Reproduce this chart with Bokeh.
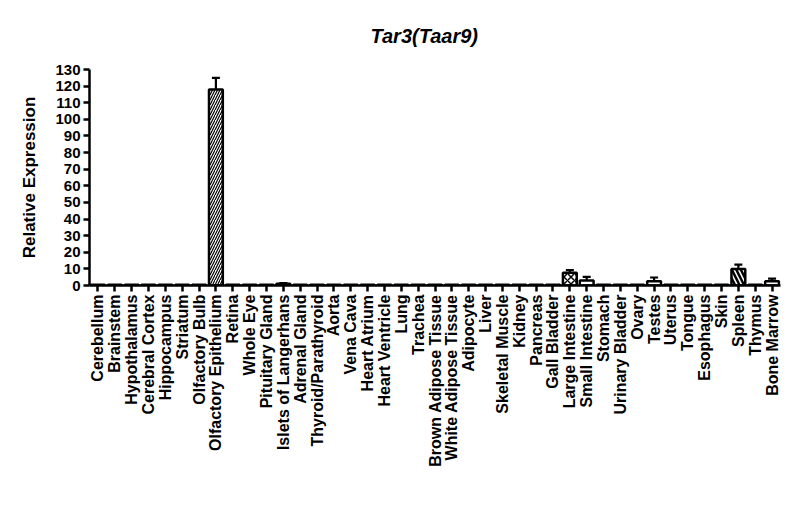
import math
from bokeh.plotting import figure
from bokeh.models import ColumnDataSource, Whisker, TeeHead, FixedTicker, Range1d, FactorRange
from bokeh.embed import file_html
from bokeh.resources import INLINE

tissues = ["Cerebellum", "Brainstem", "Hypothalamus", "Cerebral Cortex", "Hippocampus",
           "Striatum", "Olfactory Bulb", "Olfactory Epithelium", "Retina", "Whole Eye",
           "Pituitary Gland", "Islets of Langerhans", "Adrenal Gland", "Thyroid/Parathyroid",
           "Aorta", "Vena Cava", "Heart Atrium", "Heart Ventricle", "Lung", "Trachea",
           "Brown Adipose Tissue", "White Adipose Tissue", "Adipocyte", "Liver",
           "Skeletal Muscle", "Kidney", "Pancreas", "Gall Bladder", "Large Intestine",
           "Small Intestine", "Stomach", "Urinary Bladder", "Ovary", "Testes", "Uterus",
           "Tongue", "Esophagus", "Skin", "Spleen", "Thymus", "Bone Marrow"]

expression = [0.5, 0.5, 0.5, 0.5, 0.5, 0.5, 0.5, 118.0, 0.5, 0.5,
              0.5, 1.1, 0.5, 0.5, 0.5, 0.5, 0.5, 0.5, 0.5, 0.5,
              0.5, 0.5, 0.5, 0.5, 0.5, 0.5, 0.5, 0.5, 7.7,
              3.0, 0.5, 0.5, 0.5, 2.6, 0.5, 0.5, 0.5, 0.5, 10.0, 0.5, 2.5]

sem = [0, 0, 0, 0, 0, 0, 0, 7.0, 0, 0,
       0, 0.3, 0, 0, 0, 0, 0, 0, 0, 0,
       0, 0, 0, 0, 0, 0, 0, 0, 1.5,
       2.2, 0, 0, 0, 2.2, 0, 0, 0, 0, 2.6, 0, 1.6]

y_ticks = [0, 10, 20, 30, 40, 50, 60, 70, 80, 90, 100, 110, 120, 130]

hatch_map = {"Olfactory Epithelium": ("/", 5, 1.2),
             "Large Intestine": ("x", 7, 1.5),
             "Spleen": ("\\", 9, 2.5)}
hatches = [hatch_map.get(t, (" ", 6, 1))[0] for t in tissues]
hscale = [hatch_map.get(t, (" ", 6, 1))[1] for t in tissues]
hweight = [hatch_map.get(t, (" ", 6, 1))[2] for t in tissues]

src = ColumnDataSource(dict(tissue=tissues, value=expression, hatch=hatches,
                            hscale=hscale, hweight=hweight))

err_t = [t for t, s in zip(tissues, sem) if s > 0]
err_lo = [v for v, s in zip(expression, sem) if s > 0]
err_hi = [v + s for v, s in zip(expression, sem) if s > 0]
esrc = ColumnDataSource(dict(tissue=err_t, lower=err_lo, upper=err_hi))

p = figure(x_range=FactorRange(factors=tissues, range_padding=0),
           y_range=Range1d(0, 130),
           width=784, height=508, output_backend="svg", toolbar_location=None,
           min_border_left=89, min_border_right=4, min_border_top=66,
           min_border_bottom=223)

p.vbar(x="tissue", top="value", width=0.82, source=src, fill_color="white",
       line_color="black", line_width=2.5, hatch_pattern="hatch",
       hatch_color="black", hatch_scale="hscale", hatch_weight="hweight")

w = Whisker(base="tissue", lower="lower", upper="upper", source=esrc,
            dimension="height", line_width=2.2, line_color="black",
            upper_head=TeeHead(size=8, line_width=2.2, line_color="black"),
            lower_head=None)
p.add_layout(w)

p.title.text = "Tar3(Taar9)"
p.title.text_font = "Liberation Sans"
p.title.text_font_style = "bold italic"
p.title.text_font_size = "20px"
p.title.text_color = "black"
p.title.align = "left"
p.title.offset = 281
p.title.standoff = 45

p.xgrid.grid_line_color = None
p.ygrid.grid_line_color = None
p.outline_line_color = None

p.yaxis.ticker = FixedTicker(ticks=y_ticks)
p.yaxis.axis_label = "Relative Expression"
p.yaxis.axis_label_text_font = "Liberation Sans"
p.yaxis.axis_label_text_font_style = "bold"
p.yaxis.axis_label_text_font_size = "17px"
p.yaxis.axis_label_text_color = "black"
p.yaxis.axis_label_standoff = 13
p.yaxis.minor_tick_line_color = None

for ax in (p.xaxis[0], p.yaxis[0]):
    ax.axis_line_width = 2.5
    ax.axis_line_color = "black"
    ax.major_tick_line_width = 2.5
    ax.major_tick_line_color = "black"
    ax.major_tick_out = 6
    ax.major_tick_in = 0
    ax.major_label_text_font = "Liberation Sans"
    ax.major_label_text_font_style = "bold"
    ax.major_label_text_color = "black"
    ax.major_label_standoff = 3

p.yaxis.major_label_text_font_size = "15px"
p.xaxis.major_label_text_font_size = "16px"
p.xaxis.major_label_orientation = math.pi / 2

open("out.html", "w").write(file_html(p, INLINE))
